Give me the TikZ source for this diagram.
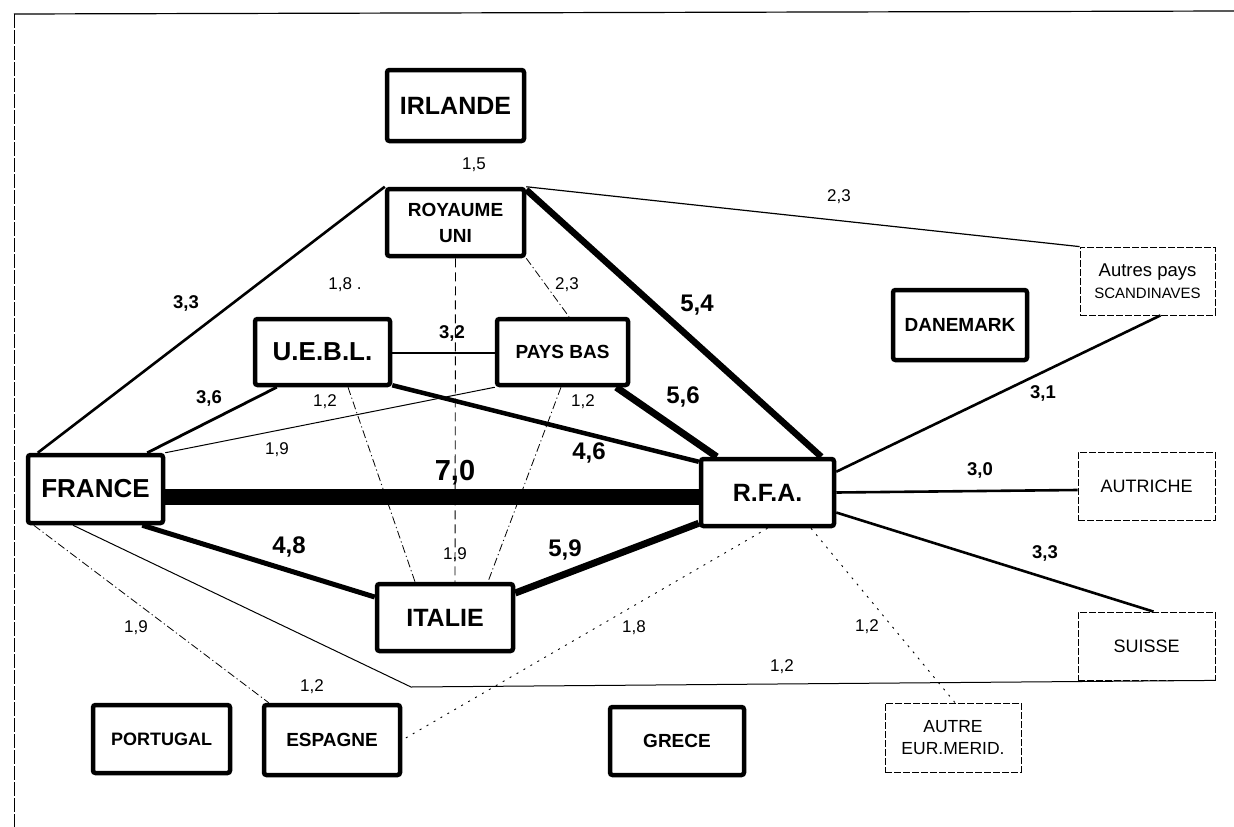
\documentclass[tikz,border=0pt]{standalone}
\usepackage{fontspec}
\setmainfont{Liberation Sans}
\newcommand{\fsz}[1]{\fontsize{#1}{#1}\selectfont}
\begin{document}
\begin{tikzpicture}[x=1pt,y=-1pt,
  box/.style={draw, line width=4.5pt, rounded corners=2.5pt, inner sep=0pt, align=center, font=\bfseries\fsz{19}},
  dbox/.style={draw, line width=0.8pt, dash pattern=on 7pt off 2pt, inner sep=0pt, align=center, font=\fsz{18}},
  dd/.style={line width=0.8pt, dash pattern=on 8pt off 3pt on 1.2pt off 3pt},
  dt/.style={line width=0.9pt, dash pattern=on 2pt off 6pt},
  vd/.style={line width=0.9pt, dash pattern=on 9pt off 5pt},
  lab/.style={font=\fsz{17}, inner sep=0pt},
  labb/.style={font=\bfseries\fsz{18.5}, inner sep=0pt},
  labB/.style={font=\bfseries\fsz{24}, inner sep=0pt}
]
\useasboundingbox (0,0) rectangle (1234,827);
% frame
\coordinate (fTL) at (14,14);
\coordinate (fTR) at (1234,11);
\coordinate (fBL) at (14,827);
\draw[line width=1.2pt] (fTR) -- (fTL);
\draw[line width=1pt, dash pattern=on 14pt off 2pt] (fTL) -- (fBL);

% nodes
\node[box, minimum width=137pt, minimum height=71pt, font=\bfseries\fsz{25}] (irl) at (455.5,105.5) {IRLANDE};
\node[box, minimum width=137pt, minimum height=67pt] (ru) at (455.5,222.5) {ROYAUME\\[7pt]UNI};
\node[box, minimum width=135pt, minimum height=66pt, font=\bfseries\fsz{26}] (uebl) at (322.5,352) {U.E.B.L.};
\node[box, minimum width=131pt, minimum height=66pt] (pb) at (562.5,352) {PAYS BAS};
\node[box, minimum width=134pt, minimum height=70pt] (dan) at (960,325) {DANEMARK};
\node[dbox, minimum width=135pt, minimum height=68pt] (aut) at (1147.5,281) {\fsz{18.5}Autres pays\\[4pt]\fsz{15}SCANDINAVES};
\node[box, minimum width=135pt, minimum height=68pt, font=\bfseries\fsz{26}] (fra) at (95.5,489) {FRANCE};
\node[box, minimum width=133pt, minimum height=67pt, font=\bfseries\fsz{25}] (rfa) at (767.5,492.5) {R.F.A.};
\node[dbox, minimum width=137pt, minimum height=68pt] (autr) at (1146.5,486) {AUTRICHE};
\node[box, minimum width=136pt, minimum height=67pt, font=\bfseries\fsz{25}] (ita) at (445,617.5) {ITALIE};
\node[dbox, minimum width=137pt, minimum height=68pt] (sui) at (1146.5,646) {SUISSE};
\node[box, minimum width=137pt, minimum height=68pt, font=\bfseries\fsz{18}] (por) at (161.5,739) {PORTUGAL};
\node[box, minimum width=136pt, minimum height=70pt] (esp) at (332,740) {ESPAGNE};
\node[box, minimum width=134pt, minimum height=68pt] (gre) at (677,741) {GRECE};
\node[dbox, minimum width=136pt, minimum height=69pt, font=\fsz{17.5}] (aem) at (953,737.5) {AUTRE\\[5pt]EUR.MERID.};

% thick flows
\draw[line width=16pt] ([yshift=-8pt]fra.east) -- ([yshift=-4.5pt]rfa.west);
\draw[line width=5pt] ([xshift=-23pt]fra.south east) -- ([yshift=20.5pt]ita.west);
\draw[line width=7pt] ([yshift=24.5pt]ita.east) -- ([yshift=5pt]rfa.south west);
\draw[line width=4.5pt] ([yshift=2pt]uebl.south east) -- ([yshift=-5pt]rfa.north west);
\draw[line width=7pt] ([xshift=-14pt]pb.south east) -- ([xshift=18pt]rfa.north west);
\draw[line width=6.5pt] ([yshift=-3pt]ru.north east) -- ([xshift=-15pt]rfa.north east);
% medium flows
\draw[line width=2.6pt] ([xshift=12pt]fra.north west) -- (ru.north west);
\draw[line width=2.8pt] ([xshift=-18pt]fra.north east) -- ([xshift=24pt]uebl.south west);
\draw[line width=2.2pt] ([yshift=-1pt]uebl.east) -- ([yshift=-1pt]pb.west);
\draw[line width=2.6pt] ([yshift=-15pt]rfa.north east) -- ([xshift=13pt]aut.south);
\draw[line width=2.6pt] (rfa.east) -- ([yshift=-4pt]autr.west);
\draw[line width=2.6pt] ([yshift=-20pt]rfa.east) -- ([xshift=7pt]sui.north);
% thin flows
\draw[line width=1.2pt] (ru.north east) -- (aut.north west);
\draw[line width=1pt] (fra.north east) -- (pb.south west);
\coordinate (fsbend) at (411,687);
\draw[line width=1pt] ([xshift=-22.5pt]fra.south) -- (fsbend) -- (sui.south east);
% dashed / dotted flows
\draw[dd] ([xshift=8pt]fra.south west) -- ([xshift=7pt]esp.north west);
\draw[vd] (ru.south) -- ([xshift=10pt]ita.north);
\draw[dd] (ru.south east) -- ([xshift=6.5pt]pb.north);
\draw[dd] ([xshift=25.5pt]uebl.south) -- ([xshift=-30pt]ita.north);
\draw[dd] ([xshift=-1.5pt]pb.south) -- ([xshift=43pt]ita.north);
\draw[dt] (rfa.south) -- (esp.east);
\draw[dt] ([xshift=43.5pt]rfa.south) -- ([xshift=2pt]aem.north);

% labels
\node[lab] (l1) at (474,165) {1,5};
\node[lab] (l2) at (839,197) {2,3};
\node[lab] (l3) at (345,285) {1,8 .};
\node[lab] (l4) at (567,285) {2,3};
\node[labb] (l5) at (186,303) {3,3};
\node[labb] (l6) at (452,333) {3,2};
\node[labB] (l7) at (697,305) {5,4};
\node[labB] (l8) at (683,397) {5,6};
\node[labb] (l9) at (209,398) {3,6};
\node[lab] (l10) at (325,402) {1,2};
\node[lab] (l11) at (583,402) {1,2};
\node[labb] (l12) at (1043,393) {3,1};
\node[lab] (l13) at (277,450) {1,9};
\node[labB] (l14) at (589,453) {4,6};
\node[labB, font=\bfseries\fsz{29}] (l15) at (455,473) {7,0};
\node[labb] (l16) at (980,470) {3,0};
\node[labB] (l17) at (289,547) {4,8};
\node[lab] (l18) at (455,555) {1,9};
\node[labB] (l19) at (565,550) {5,9};
\node[labb] (l20) at (1045,553) {3,3};
\node[lab] (l21) at (136,628) {1,9};
\node[lab] (l22) at (634,628) {1,8};
\node[lab] (l23) at (867,627) {1,2};
\node[lab] (l24) at (782,667) {1,2};
\node[lab] (l25) at (312,687) {1,2};
\end{tikzpicture}
\end{document}
